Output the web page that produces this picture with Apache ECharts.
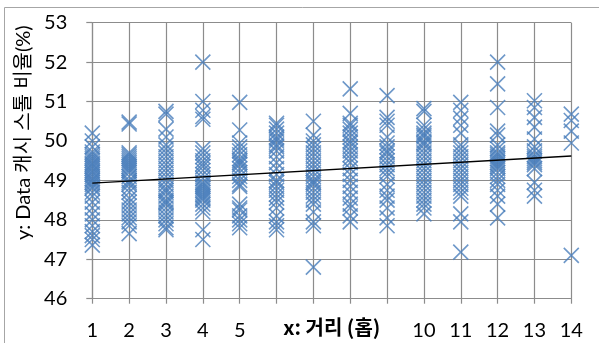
<!DOCTYPE html>
<html>
<head>
<meta charset="utf-8">
<script src="https://cdn.jsdelivr.net/npm/echarts@6/dist/echarts.min.js"></script>
<style>
  html, body { margin: 0; padding: 0; background: #fff; }
  #chart { width: 599px; height: 343px; }
</style>
</head>
<body>
<div id="chart"></div>
<script>
// Hop distance (x) for each column of measurements
const hops = [1, 2, 3, 4, 5, 6, 7, 8, 9, 10, 11, 12, 13, 14];
// Labels printed under the x axis (6–9 sit under the axis title)
const xTickLabels = ['1', '2', '3', '4', '5', '', '', '', '', '10', '11', '12', '13', '14'];
const yTicks = [46, 47, 48, 49, 50, 51, 52, 53];

// Data-cache stall ratio (%) observed at each hop distance
const stall1 = [50.2, 50.0, 49.85, 49.72, 49.66, 49.6, 49.55, 49.5, 49.44, 49.4, 49.35, 49.3, 49.24, 49.2, 49.15, 49.1, 49.04, 49.0, 48.95, 48.9, 48.84, 48.8, 48.7, 48.6, 48.45, 48.3, 48.15, 48.0, 47.85, 47.7, 47.6, 47.5, 47.36];
const stall2 = [50.48, 50.43, 49.7, 49.65, 49.6, 49.55, 49.5, 49.45, 49.4, 49.35, 49.3, 49.25, 49.2, 49.1, 49.0, 48.95, 48.9, 48.8, 48.7, 48.55, 48.45, 48.35, 48.25, 48.15, 48.05, 47.95, 47.85, 47.65];
const stall3 = [50.75, 50.68, 50.3, 50.1, 49.9, 49.8, 49.7, 49.6, 49.5, 49.4, 49.3, 49.2, 49.1, 49.0, 48.9, 48.8, 48.75, 48.7, 48.6, 48.5, 48.45, 48.4, 48.3, 48.2, 48.1, 48.0, 47.9, 47.8, 47.75];
const stall4 = [52.0, 51.0, 50.78, 50.62, 50.55, 49.8, 49.7, 49.6, 49.5, 49.42, 49.35, 49.25, 49.15, 49.05, 48.95, 48.9, 48.85, 48.8, 48.75, 48.7, 48.65, 48.6, 48.55, 48.5, 48.4, 48.3, 48.2, 47.75, 47.5];
const stall5 = [50.98, 50.28, 49.95, 49.85, 49.75, 49.65, 49.55, 49.5, 49.45, 49.4, 49.3, 49.2, 49.1, 49.0, 48.9, 48.85, 48.4, 48.3, 48.25, 48.1, 48.0, 47.9, 47.8];
const stall6 = [50.45, 50.4, 50.3, 50.2, 50.1, 50.05, 50.0, 49.9, 49.85, 49.75, 49.6, 49.45, 49.3, 49.15, 49.0, 48.95, 48.85, 48.75, 48.65, 48.55, 48.45, 48.3, 48.1, 47.95, 47.85, 47.75];
const stall7 = [50.5, 50.15, 50.0, 49.9, 49.8, 49.7, 49.6, 49.5, 49.4, 49.3, 49.2, 49.1, 49.0, 48.95, 48.9, 48.8, 48.7, 48.6, 48.5, 48.4, 48.2, 47.95, 47.85, 46.8];
const stall8 = [51.32, 50.7, 50.45, 50.4, 50.3, 50.2, 50.1, 50.0, 49.95, 49.85, 49.75, 49.65, 49.55, 49.45, 49.3, 49.15, 49.0, 48.85, 48.7, 48.55, 48.4, 48.3, 48.1, 47.95];
const stall9 = [51.15, 50.6, 50.5, 50.4, 50.1, 49.95, 49.85, 49.75, 49.7, 49.6, 49.5, 49.4, 49.3, 49.2, 49.1, 48.9, 48.75, 48.6, 48.5, 48.3, 48.05, 47.85];
const stall10 = [50.82, 50.75, 50.4, 50.3, 50.2, 50.15, 50.1, 50.0, 49.95, 49.9, 49.8, 49.7, 49.6, 49.5, 49.4, 49.3, 49.2, 49.1, 49.0, 48.9, 48.8, 48.7, 48.6, 48.5, 48.4, 48.3, 48.15];
const stall11 = [50.98, 50.78, 50.58, 50.4, 50.2, 49.9, 49.8, 49.7, 49.6, 49.5, 49.4, 49.3, 49.2, 49.1, 49.0, 48.9, 48.8, 48.7, 48.6, 48.15, 47.95, 47.18];
const stall12 = [52.0, 51.45, 50.85, 50.25, 50.15, 49.9, 49.8, 49.7, 49.65, 49.6, 49.55, 49.5, 49.45, 49.4, 49.35, 49.3, 49.2, 49.1, 49.0, 48.9, 48.75, 48.6, 48.4, 48.05];
const stall13 = [51.02, 50.85, 50.6, 50.35, 50.05, 49.85, 49.75, 49.65, 49.6, 49.55, 49.5, 49.45, 49.4, 49.3, 48.95, 48.75, 48.6];
const stall14 = [50.68, 50.52, 50.25, 49.95, 47.1];
const stallByHop = [stall1, stall2, stall3, stall4, stall5, stall6, stall7, stall8, stall9, stall10, stall11, stall12, stall13, stall14];

// Linear trend line endpoints (at hop 1 and hop 14)
const trendX = [1, 14];
const trendY = [48.93, 49.62];

const points = [];
stallByHop.forEach((vals, i) => vals.forEach(v => points.push([hops[i], v])));

const FONT = 'Lato, "Noto Sans CJK KR", sans-serif';
const TITLE_FONT = '"Noto Sans CJK KR", Lato, sans-serif';
const GRID_GRAY = '#8c8c8c';

const chart = echarts.init(document.getElementById('chart'), null, { renderer: 'canvas' });
chart.setOption({
  animation: false,
  backgroundColor: '#fff',
  grid: { left: 92.3, right: 27.7, top: 22.7, bottom: 44.3, containLabel: false, outerBoundsMode: 'none' },
  xAxis: {
    type: 'value',
    min: 1, max: 14, interval: 1,
    name: 'x: 거리 (홉)',
    nameLocation: 'middle',
    nameGap: 19,
    nameMoveOverlap: false,
    nameTextStyle: { fontFamily: TITLE_FONT, fontSize: 20, color: '#000', fontWeight: 'bold' },
    axisLine: { show: true, onZero: false, lineStyle: { color: GRID_GRAY, width: 1.2 } },
    axisTick: { show: true, length: 5, lineStyle: { color: GRID_GRAY, width: 1.2 } },
    axisLabel: {
      margin: 22, fontFamily: FONT, fontSize: 20, color: '#000',
      formatter: v => xTickLabels[hops.indexOf(v)] ?? ''
    },
    splitLine: { show: true, lineStyle: { color: GRID_GRAY, width: 1.2 } }
  },
  yAxis: {
    type: 'value',
    min: yTicks[0], max: yTicks[yTicks.length - 1], interval: 1,
    name: 'y: Data 캐시 스톨 비율(%)',
    nameLocation: 'middle',
    nameRotate: 90,
    nameGap: 59,
    nameMoveOverlap: false,
    nameTextStyle: { fontFamily: FONT, fontSize: 20, color: '#000', padding: [0, 0, 0, 56] },
    axisLine: { show: true, onZero: false, lineStyle: { color: GRID_GRAY, width: 1.2 } },
    axisTick: { show: true, length: 6, lineStyle: { color: GRID_GRAY, width: 1.2 } },
    axisLabel: { margin: 25, fontFamily: FONT, fontSize: 20, color: '#000' },
    splitLine: { show: true, lineStyle: { color: GRID_GRAY, width: 1.2 } }
  },
  graphic: [{
    type: 'rect',
    shape: { x: 4.5, y: 7.5, width: 700, height: 400 },
    style: { fill: 'none', stroke: '#a6a6a6', lineWidth: 1 },
    silent: true
  }],
  series: [
    {
      type: 'scatter',
      data: points,
      symbol: 'path://M0,0L10,10M10,0L0,10',
      symbolSize: 15,
      itemStyle: { color: 'transparent', borderColor: '#4a7ebb', borderWidth: 1.6 },
      z: 2
    },
    {
      type: 'line',
      data: trendX.map((x, i) => [x, trendY[i]]),
      symbol: 'none',
      lineStyle: { color: '#000', width: 1.4 },
      z: 3
    }
  ]
});
</script>
</body>
</html>
